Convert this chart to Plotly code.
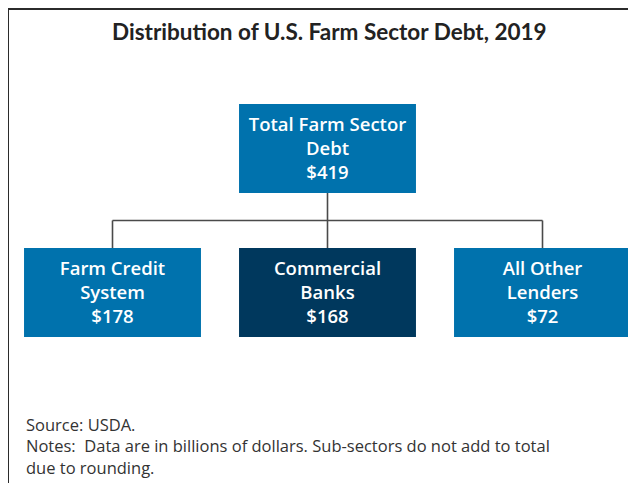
import plotly.graph_objects as go

# ---- data ----
node_names = ["Total Farm Sector Debt", "Farm Credit System", "Commercial Banks", "All Other Lenders"]
node_labels = ["Total Farm Sector<br>Debt", "Farm Credit<br>System", "Commercial<br>Banks", "All Other<br>Lenders"]
node_values = [419, 178, 168, 72]          # billions of dollars
node_parent = [None, 0, 0, 0]

title_text = "Distribution of U.S. Farm Sector Debt, 2019"
source_text = "Source: USDA.<br>Notes:  Data are in billions of dollars. Sub-sectors do not add to total<br>due to rounding."

# ---- style ----
LIGHT = "#0072AD"
DARK = "#00385D"
highlight = {"Commercial Banks": DARK}
W, H = 636, 483
OFF = 8            # page offset of the figure in the browser window
BOX_W = 0.823      # in slot units
BOX_HH = 0.309     # half height in level units

# ---- layout computation (from structure) ----
level = []
for i, p in enumerate(node_parent):
    level.append(0 if p is None else level[p] + 1)
xpos = [None] * len(node_names)
children = {}
for i, p in enumerate(node_parent):
    if p is not None:
        children.setdefault(p, []).append(i)
for p, ch in children.items():
    for k, c in enumerate(ch):
        xpos[c] = float(k)
for i, p in enumerate(node_parent):
    if p is None:
        ch = children[i]
        xpos[i] = sum(xpos[c] for c in ch) / len(ch)
ypos = [-l for l in level]

fig = go.Figure()

# connectors
lx, ly = [], []
for p, ch in children.items():
    ymid = (ypos[p] - BOX_HH + ypos[ch[0]] + BOX_HH) / 2
    lx += [xpos[p], xpos[p], None]
    ly += [ypos[p] - BOX_HH, ymid, None]
    lx += [xpos[ch[0]], xpos[ch[-1]], None]
    ly += [ymid, ymid, None]
    for c in ch:
        lx += [xpos[c], xpos[c], None]
        ly += [ymid, ypos[c] + BOX_HH, None]
fig.add_trace(go.Scatter(x=lx, y=ly, mode="lines", line=dict(color="#4a4a4a", width=1.6),
                         hoverinfo="skip", showlegend=False))

# boxes
fig.add_trace(go.Bar(
    x=xpos, y=[2 * BOX_HH] * len(node_names), base=[y - BOX_HH for y in ypos],
    width=BOX_W, marker=dict(color=[highlight.get(n, LIGHT) for n in node_names], line=dict(width=0)),
    hoverinfo="skip", showlegend=False))

# box text
fig.add_trace(go.Scatter(
    x=xpos, y=[y - 0.015 for y in ypos], mode="text",
    text=[f"{l}<br>${v}" for l, v in zip(node_labels, node_values)],
    textposition="middle center",
    textfont=dict(family="Open Sans", size=18.5, color="white", weight=600),
    hoverinfo="skip", showlegend=False))

px_per_x = 215.0
x0_px = 112.5 - OFF
px_per_y = 144.0
y0_px = 148.5 - OFF

fig.update_layout(
    width=W, height=H, margin=dict(l=0, r=0, t=0, b=0),
    paper_bgcolor="white", plot_bgcolor="white",
    xaxis=dict(range=[-x0_px / px_per_x, (W - x0_px) / px_per_x], visible=False, fixedrange=True),
    yaxis=dict(range=[-(H - y0_px) / px_per_y, y0_px / px_per_y], visible=False, fixedrange=True),
    showlegend=False,
    shapes=[dict(type="path", xref="paper", yref="paper",
                 path=f"M {(7.5-OFF+0.5)/W},{-0.1} L {(7.5-OFF+0.5)/W},{1-(8-OFF+1)/H} L 1.1,{1-(8-OFF+1)/H}",
                 line=dict(color="#2b2b2b", width=2))],
    annotations=[
        dict(text=f"<b>{title_text}</b>", xref="paper", yref="paper", x=(329 - OFF) / W, y=1 - (31 - OFF) / H,
             xanchor="center", yanchor="middle", showarrow=False,
             font=dict(family="Lato", size=22.5, color="#222222")),
        dict(text=source_text, xref="paper", yref="paper", x=(24 - OFF) / W, y=1 - (446 - OFF) / H,
             xanchor="left", yanchor="middle", align="left", showarrow=False,
             font=dict(family="Open Sans", size=16.5, color="#333333")),
    ],
)

fig.write_html("out.html")
